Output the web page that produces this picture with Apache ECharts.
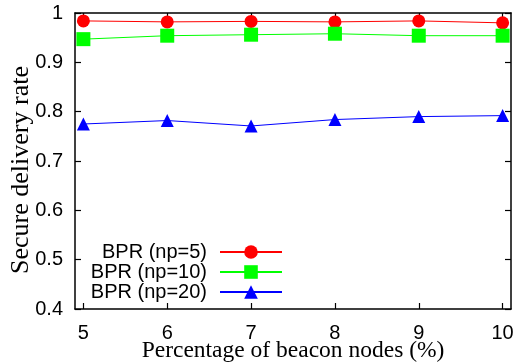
<!DOCTYPE html>
<html>
<head>
<meta charset="utf-8">
<script src="https://cdn.jsdelivr.net/npm/echarts@6/dist/echarts.min.js"></script>
<style>
  html, body { margin: 0; padding: 0; background: #fff; }
  #chart { width: 517px; height: 362px; }
</style>
</head>
<body>
<div id="chart"></div>
<script>
// Percentage of beacon nodes (x) and secure delivery rate per BPR setting
const beaconPct = [5, 6, 7, 8, 9, 10];
const bprNp5  = [0.984, 0.982, 0.983, 0.982, 0.984, 0.980];
const bprNp10 = [0.947, 0.954, 0.956, 0.958, 0.954, 0.954];
const bprNp20 = [0.775, 0.782, 0.771, 0.784, 0.790, 0.792];
const seriesNames = ['BPR (np=5)', 'BPR (np=10)', 'BPR (np=20)'];
const xTicks = [5, 6, 7, 8, 9, 10];

const sansFont = 'Liberation Sans, Arial, sans-serif';
const serifFont = 'Liberation Serif, Times New Roman, serif';

const pairs = ys => beaconPct.map((x, i) => [x, ys[i]]);

const seriesDefs = [
  { name: seriesNames[0], data: pairs(bprNp5),  color: '#ff0000', symbol: 'circle',   size: 13 },
  { name: seriesNames[1], data: pairs(bprNp10), color: '#00ff00', symbol: 'rect',     size: 14 },
  { name: seriesNames[2], data: pairs(bprNp20), color: '#0000ff', symbol: 'triangle', size: 13 }
];

const frameLine = { show: true, lineStyle: { color: '#000', width: 1.5 } };
const innerTick = { show: true, inside: true, length: 6, lineStyle: { color: '#000', width: 1.2 } };

const legendRows = [251, 271, 291];

const chart = echarts.init(document.getElementById('chart'), null, { renderer: 'canvas' });
chart.setOption({
  animation: false,
  backgroundColor: '#fff',
  grid: { left: 75, right: 6, top: 13, bottom: 53, containLabel: false, outerBoundsMode: 'none' },
  legend: seriesDefs.map((s, i) => ({
    data: [s.name],
    orient: 'vertical',
    align: 'right',
    right: 234,
    top: legendRows[i] - 9,
    itemWidth: 62,
    itemHeight: 17,
    padding: 0,
    textStyle: { fontFamily: sansFont, fontSize: 20, color: '#000', padding: [0, 8, 0, 0] }
  })),
  xAxis: [
    {
      type: 'value', min: 4.9, max: 10.1, position: 'bottom',
      name: 'Percentage of beacon nodes (%)', nameLocation: 'middle', nameGap: 30,
      nameMoveOverlap: false,
      nameTextStyle: { fontFamily: serifFont, fontSize: 23.5, color: '#000' },
      axisLine: frameLine,
      axisTick: Object.assign({ customValues: xTicks }, innerTick),
      axisLabel: { customValues: xTicks, fontFamily: sansFont, fontSize: 20, color: '#000', margin: 14 },
      splitLine: { show: false }
    },
    {
      type: 'value', min: 4.9, max: 10.1, position: 'top',
      axisLine: frameLine,
      axisTick: Object.assign({ customValues: xTicks }, innerTick),
      axisLabel: { show: false },
      splitLine: { show: false }
    }
  ],
  yAxis: [
    {
      type: 'value', min: 0.4, max: 1, interval: 0.1, position: 'left',
      name: 'Secure delivery rate', nameLocation: 'middle', nameGap: 41,
      nameMoveOverlap: false,
      nameTextStyle: { fontFamily: serifFont, fontSize: 26, color: '#000', padding: [0, 18, 0, 0] },
      axisLine: frameLine,
      axisTick: innerTick,
      axisLabel: {
        fontFamily: sansFont, fontSize: 20, color: '#000', margin: 12,
        formatter: v => String(parseFloat(v.toFixed(1)))
      },
      splitLine: { show: false }
    },
    {
      type: 'value', min: 0.4, max: 1, interval: 0.1, position: 'right',
      axisLine: frameLine,
      axisTick: innerTick,
      axisLabel: { show: false },
      splitLine: { show: false }
    }
  ],
  series: seriesDefs.map(s => ({
    name: s.name,
    type: 'line',
    data: s.data,
    symbol: s.symbol,
    symbolSize: s.size,
    color: s.color,
    lineStyle: { color: s.color, width: 1 },
    itemStyle: { color: s.color },
    clip: false,
    z: 3
  }))
});
</script>
</body>
</html>
